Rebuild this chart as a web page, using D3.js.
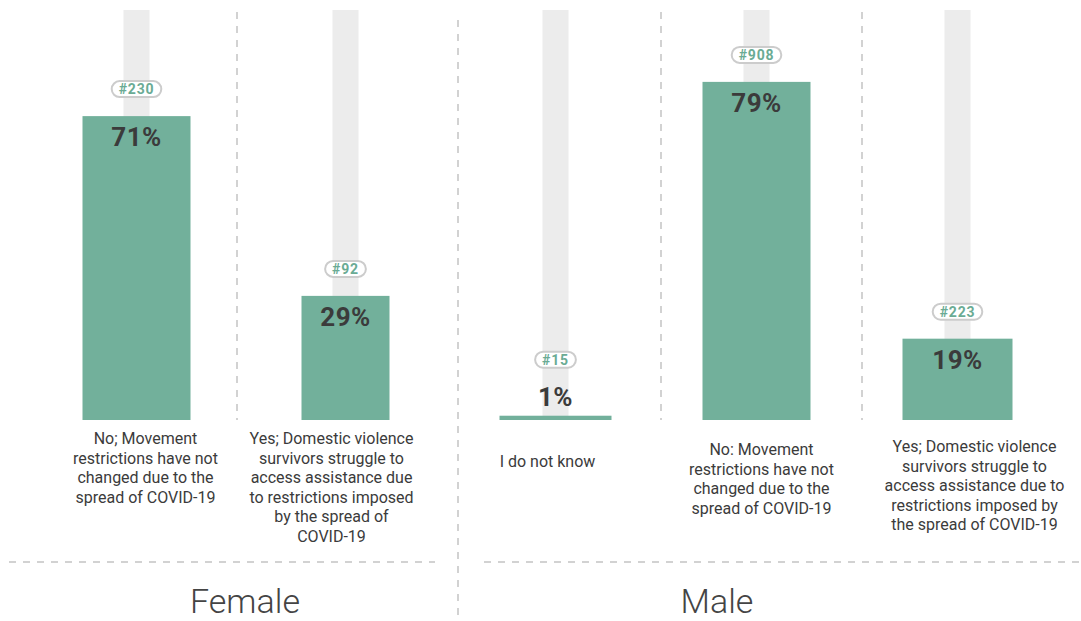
<!DOCTYPE html>
<html>
<head>
<meta charset="utf-8">
<script src="https://cdn.jsdelivr.net/npm/d3@7"></script>
<style>
  html, body { margin: 0; padding: 0; background: #fff; }
  svg { display: block; }
</style>
</head>
<body>
<svg id="chart" width="1081" height="621"></svg>
<script>
// Survey answers by gender: share of respondents and respondent counts
const groups = ["Female", "Male"];

const femaleCategories = [
  ["No; Movement", "restrictions have not", "changed due to the", "spread of COVID-19"],
  ["Yes; Domestic violence", "survivors struggle to", "access assistance due", "to restrictions imposed", "by the spread of", "COVID-19"]
];
const femalePercent = [71, 29];
const femaleCount = [230, 92];

const maleCategories = [
  ["I do not know"],
  ["No: Movement", "restrictions have not", "changed due to the", "spread of COVID-19"],
  ["Yes; Domestic violence", "survivors struggle to", "access assistance due to", "restrictions imposed by", "the spread of COVID-19"]
];
const malePercent = [1, 79, 19];
const maleCount = [15, 908, 223];

// ---- layout ----
const W = 1081, H = 621;
const baseY = 420;          // bar baseline
const trackTop = 10;        // top of the grey track behind each bar
const trackW = 26;
const lineH = 19.5;
const BAR = "#72b09b";
const TRACK = "#ececec";
const GRID = "#d2d2d2";
const INK = "#3b3b3b";
const BADGE_TXT = "#6aab94";

const layout = {
  Female: { range: [32, 450], barW: [108, 88], sepDx: -4, labelDx: [9, -14], labelY: [444, 444], titleX: 245, rule: [9, 435] },
  Male:   { range: [455, 1058], barW: [112, 108, 110], sepDx: 5, labelDx: [-8, 5, 17], labelY: [467, 455, 452], titleX: 717, rule: [484, 1081] }
};

const panels = [
  { name: groups[0], cats: femaleCategories, pct: femalePercent, n: femaleCount },
  { name: groups[1], cats: maleCategories, pct: malePercent, n: maleCount }
];

const y = d3.scaleLinear().domain([0, 100]).range([baseY, baseY - 428]);

const svg = d3.select("#chart");
const font = "Roboto, 'Noto Sans', sans-serif";

// dashed rules
function dashed(g, x1, y1, x2, y2) {
  g.append("line")
    .attr("x1", x1).attr("y1", y1).attr("x2", x2).attr("y2", y2)
    .attr("stroke", GRID).attr("stroke-width", 2)
    .attr("stroke-dasharray", "7,7");
}

// separator between the two groups
dashed(svg, 458, 20, 458, H);

panels.forEach(p => {
  const L = layout[p.name];
  const idx = p.pct.map((d, i) => i);
  const x = d3.scaleBand().domain(idx).range(L.range);
  const g = svg.append("g").attr("class", "panel-" + p.name);

  // separators between columns
  idx.slice(1).forEach(i => dashed(g, x(i) + L.sepDx, 12, x(i) + L.sepDx, baseY));

  // bottom rule
  dashed(g, L.rule[0], 562, L.rule[1], 562);

  const col = g.selectAll("g.col").data(idx).join("g").attr("class", "col");

  // grey tracks
  col.append("rect")
    .attr("x", i => x(i) + x.bandwidth() / 2 - trackW / 2)
    .attr("y", trackTop)
    .attr("width", trackW)
    .attr("height", baseY - trackTop)
    .attr("fill", TRACK);

  // bars
  col.append("rect")
    .attr("x", i => x(i) + x.bandwidth() / 2 - L.barW[i] / 2)
    .attr("y", i => y(p.pct[i]))
    .attr("width", i => L.barW[i])
    .attr("height", i => baseY - y(p.pct[i]))
    .attr("fill", BAR);

  // percentage labels: inside the bar top, or above a very short bar
  const inside = i => (baseY - y(p.pct[i])) > 40;
  const pctY = i => inside(i) ? y(p.pct[i]) + 30 : y(p.pct[i]) - 10;
  col.append("text")
    .attr("x", i => x(i) + x.bandwidth() / 2)
    .attr("y", pctY)
    .attr("text-anchor", "middle")
    .attr("font-family", font)
    .attr("font-weight", 700)
    .attr("font-size", 26)
    .attr("letter-spacing", 0.5)
    .attr("fill", INK)
    .text(i => p.pct[i] + "%");

  // count badges
  const badgeCY = i => inside(i) ? y(p.pct[i]) - 27 : y(p.pct[i]) - 56;
  col.each(function (i) {
    const c = d3.select(this);
    const cx = x(i) + x.bandwidth() / 2;
    const t = c.append("text")
      .attr("x", cx)
      .attr("y", badgeCY(i) + 5)
      .attr("text-anchor", "middle")
      .attr("font-family", font)
      .attr("font-weight", 700)
      .attr("font-size", 14)
      .attr("letter-spacing", 0.8)
      .attr("fill", BADGE_TXT)
      .text("#" + p.n[i]);
    const w = t.node().getComputedTextLength() + 14;
    c.insert("rect", function () { return t.node(); })
      .attr("x", cx - w / 2)
      .attr("y", badgeCY(i) - 8)
      .attr("width", w)
      .attr("height", 16)
      .attr("rx", 8)
      .attr("fill", "#fff")
      .attr("stroke", "#cccccc")
      .attr("stroke-width", 2);
  });

  // category labels
  col.append("text")
    .attr("text-anchor", "middle")
    .attr("font-family", font)
    .attr("font-size", 16)
    .attr("fill", INK)
    .each(function (i) {
      const t = d3.select(this);
      p.cats[i].forEach((line, k) => {
        t.append("tspan")
          .attr("x", x(i) + x.bandwidth() / 2 + L.labelDx[i])
          .attr("y", L.labelY[i] + k * lineH)
          .text(line);
      });
    });

  // group title
  g.append("text")
    .attr("x", L.titleX)
    .attr("y", 613)
    .attr("text-anchor", "middle")
    .attr("font-family", font)
    .attr("font-weight", 300)
    .attr("font-size", 34)
    .attr("fill", "#444")
    .text(p.name);
});
</script>
</body>
</html>
